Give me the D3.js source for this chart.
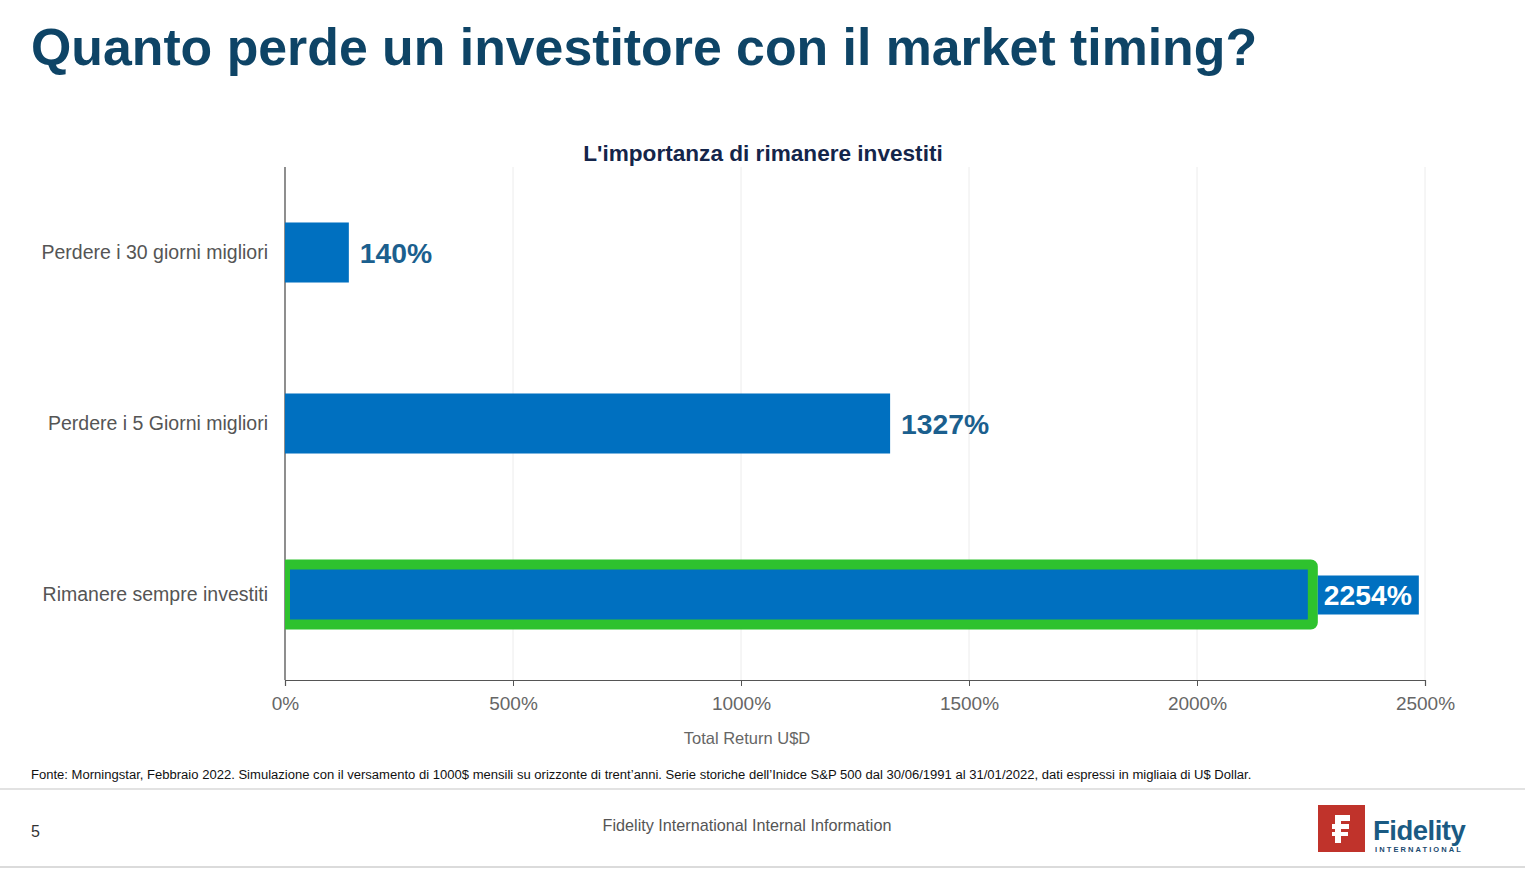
<!DOCTYPE html>
<html><head><meta charset="utf-8">
<script src="https://cdn.jsdelivr.net/npm/d3@7/dist/d3.min.js"></script>
<style>body{margin:0;background:#fff;}svg{display:block;font-family:"Liberation Sans",Arial,sans-serif;}</style>
</head><body>
<svg id="c" width="1525" height="869"></svg>
<script>
const categories = ["Perdere i 30 giorni migliori", "Perdere i 5 Giorni migliori", "Rimanere sempre investiti"];
const values = [140, 1327, 2254];
const highlighted = [false, false, true];
const ticks = [0, 500, 1000, 1500, 2000, 2500];
const title = "Quanto perde un investitore con il market timing?";
const chartTitle = "L'importanza di rimanere investiti";
const axisTitle = "Total Return U$D";
const source = "Fonte: Morningstar, Febbraio 2022. Simulazione con il versamento di 1000$ mensili su orizzonte di trent\u2019anni. Serie storiche dell\u2019Inidce S&P 500 dal 30/06/1991 al 31/01/2022, dati espressi in migliaia di U$ Dollar.";
const footer = "Fidelity International Internal Information";
const pageNum = "5";

const svg = d3.select("#c");
const L = 285, R = 1425, T = 167, B = 680;
const x = d3.scaleLinear().domain([0, 2500]).range([L, R]);
const y = d3.scaleBand().domain(categories).range([T, B]).paddingInner(0.649).paddingOuter(0.3245);

svg.append("text").attr("x", 31).attr("y", 65).attr("font-size", 51.8).attr("font-weight", "bold")
  .attr("fill", "#0e4466").text(title);

svg.append("text").attr("x", 763).attr("y", 161).attr("text-anchor", "middle").attr("font-size", 22.6)
  .attr("font-weight", "bold").attr("fill", "#14254a").text(chartTitle);

// gridlines
svg.append("g").selectAll("line").data(ticks.slice(1)).join("line")
  .attr("x1", d => x(d)).attr("x2", d => x(d)).attr("y1", T).attr("y2", B)
  .attr("stroke", "#ececec").attr("stroke-width", 1);

// x axis
const xa = svg.append("g").attr("transform", `translate(0,${B})`)
  .call(d3.axisBottom(x).tickValues(ticks).tickFormat(d => d + "%").tickSize(6).tickPadding(6));
xa.select(".domain").attr("stroke", "#555").attr("stroke-width", 1.2);
xa.selectAll(".tick line").attr("stroke", "#555");
xa.selectAll(".tick text").attr("font-size", 19).attr("fill", "#666").attr("font-family", "Liberation Sans, Arial, sans-serif").attr("dy", "0.95em");

svg.append("text").attr("x", 747).attr("y", 744).attr("text-anchor", "middle").attr("font-size", 16.5)
  .attr("fill", "#666").text(axisTitle);

// y axis
const ya = svg.append("g").attr("transform", `translate(${L},0)`)
  .call(d3.axisLeft(y).tickSize(0).tickPadding(17));
ya.select(".domain").attr("stroke", "#444").attr("stroke-width", 1.2).attr("d", `M0,${T}V${B}`);
ya.selectAll(".tick text").attr("font-size", 19.5).attr("fill", "#555").attr("font-family", "Liberation Sans, Arial, sans-serif");

const data = categories.map((c, i) => ({c, v: values[i], h: highlighted[i]}));
svg.append("defs").append("clipPath").attr("id", "plotclip").append("rect")
  .attr("x", L).attr("y", 0).attr("width", 1525 - L).attr("height", 869);

const bars = svg.append("g");
bars.selectAll("rect.bar").data(data).join("rect").attr("class", "bar")
  .attr("x", x(0)).attr("y", d => y(d.c)).attr("width", d => x(d.v) - x(0)).attr("height", y.bandwidth())
  .attr("fill", "#0070c0");
bars.selectAll("rect.hl").data(data.filter(d => d.h)).join("rect").attr("class", "hl")
  .attr("clip-path", "url(#plotclip)")
  .attr("x", x(0)).attr("y", d => y(d.c)).attr("width", d => x(d.v) - x(0)).attr("height", y.bandwidth())
  .attr("fill", "none").attr("stroke", "#2ec22e").attr("stroke-width", 10).attr("rx", 2);

// value labels
data.forEach(d => {
  const cy = y(d.c) + y.bandwidth() / 2;
  if (d.h) {
    const bx = x(d.v) + 5;
    svg.append("rect").attr("x", bx).attr("y", cy - 19).attr("width", 101).attr("height", 39).attr("fill", "#0070c0");
    svg.append("text").attr("x", bx + 6).attr("y", cy + 10).attr("font-size", 28.3).attr("font-weight", "bold")
      .attr("fill", "#fff").text(d.v + "%");
  } else {
    svg.append("text").attr("x", x(d.v) + 11).attr("y", cy + 10).attr("font-size", 28.3).attr("font-weight", "bold")
      .attr("fill", "#1b5f8e").text(d.v + "%");
  }
});

// footer
svg.append("text").attr("x", 31).attr("y", 779).attr("font-size", 13.05).attr("fill", "#111").text(source);
svg.append("line").attr("x1", 0).attr("x2", 1525).attr("y1", 789).attr("y2", 789).attr("stroke", "#d8d8d8").attr("stroke-width", 1.5);
svg.append("line").attr("x1", 0).attr("x2", 1525).attr("y1", 867).attr("y2", 867).attr("stroke", "#cfcfcf").attr("stroke-width", 1.5);
svg.append("text").attr("x", 31).attr("y", 837).attr("font-size", 16).attr("fill", "#333").text(pageNum);
svg.append("text").attr("x", 747).attr("y", 831).attr("text-anchor", "middle").attr("font-size", 16.2).attr("fill", "#555").text(footer);

// logo
const lg = svg.append("g");
lg.append("rect").attr("x", 1318).attr("y", 805).attr("width", 47).attr("height", 47).attr("fill", "#c0332b");
lg.append("path").attr("fill", "#fff")
  .attr("d", "M1335,815 h15 v6 h-9 v3 h8 v5 h-8 v3 h7 v4 h-7 v7 h-6 v-7 h-3 v-4 h3 v-3 h-3 v-5 h3 z");
lg.append("text").attr("x", 1373).attr("y", 840).attr("font-size", 27.5).attr("font-weight", "bold")
  .attr("fill", "#1a5a83").attr("letter-spacing", -0.5).text("Fidelity");
lg.append("text").attr("x", 1375).attr("y", 852).attr("font-size", 7.5).attr("font-weight", "bold")
  .attr("fill", "#1a4a70").attr("letter-spacing", 2.1).text("INTERNATIONAL");
</script>
</body></html>
